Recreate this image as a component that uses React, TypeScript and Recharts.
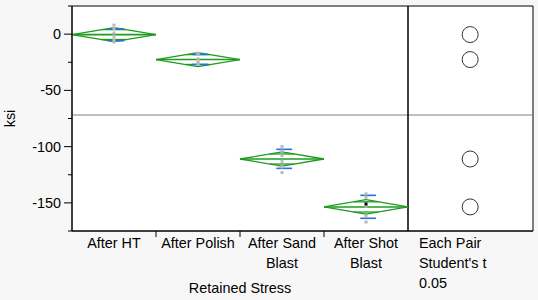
import { ComposedChart, ReferenceArea, ReferenceLine, Scatter, XAxis, YAxis } from "recharts";

const groupLabels = [["After HT"], ["After Polish"], ["After Sand", "Blast"], ["After Shot", "Blast"]];
const compareLabel = ["Each Pair", "Student's t", "0.05"];
const axisTitle = "Retained Stress";

const means = [-0.4, -22.6, -111.0, -153.6];
const ciHalf = [6.2, 6.2, 6.3, 6.4];
const sdLow = [-5.9, -26.9, -119.3, -163.7];
const sdHigh = [4.7, -18.0, -102.4, -143.3];
const grandMean = -71.9;

const obsHT = [8, 5, 1, -2, -5, -7];
const obsPolish = [-17, -18, -22, -25, -26, -27];
const obsSand = [-100, -104, -108, -113, -118, -123];
const obsShot = [-142, -145, -153, -162, -167];
const obsShotSelected = [-151];

const yTicks = [25, 0, -25, -50, -75, -100, -125, -150, -175];
const xTicks = [0.5, 1, 1.5, 2, 2.5, 3, 3.5, 4];

const X_MAX = 4 + 125 / 84;
const CIRCLE_X = 4.74;
const GREEN = "#1f9b1f";
const BLUE = "#2a6ef0";
const FS = 14.4;

const points = [obsHT, obsPolish, obsSand, obsShot].flatMap((arr, i) =>
  arr.map((v) => ({ x: i + 0.5, y: v }))
);
const selected = obsShotSelected.map((v) => ({ x: 3.5, y: v }));
const circles = means.map((m) => ({ x: CIRCLE_X, y: m }));

const font = "'Liberation Sans', Arial, sans-serif";

function YTick(props: any) {
  const { x, y, payload } = props;
  const major = payload.value % 50 === 0;
  return (
    <g>
      <line x1={x - (major ? 8 : 4)} x2={x} y1={y} y2={y} stroke="#000" />
      {major && (
        <text x={x - 11} y={y + 5} textAnchor="end" fontSize={FS} fontFamily={font} fill="#000">
          {payload.value}
        </text>
      )}
    </g>
  );
}

function XTick(props: any) {
  const { x, y, payload } = props;
  const v = payload.value;
  if (v === 4) {
    return (
      <g>
        {compareLabel.map((t, k) => (
          <text key={k} x={x + 11} y={y + 17 + k * 19.8} fontSize={FS} fontFamily={font} fill="#000">
            {t}
          </text>
        ))}
      </g>
    );
  }
  if (Number.isInteger(v)) {
    return (
      <g>
        <line x1={x} x2={x} y1={y} y2={y + 6} stroke="#000" />
        {v === 2 && (
          <text x={x} y={y + 61.5} textAnchor="middle" fontSize={FS} fontFamily={font} fill="#000">
            {axisTitle}
          </text>
        )}
      </g>
    );
  }
  const lines = groupLabels[Math.floor(v)];
  return (
    <g>
      {lines.map((t, k) => (
        <text key={k} x={x} y={y + 17 + k * 20} textAnchor="middle" fontSize={FS} fontFamily={font} fill="#000">
          {t}
        </text>
      ))}
    </g>
  );
}

function YLabel(props: any) {
  const { viewBox } = props;
  const cx = viewBox.x + 10;
  const cy = viewBox.y + viewBox.height / 2;
  return (
    <text x={cx} y={cy} transform={`rotate(-90 ${cx} ${cy})`} textAnchor="middle" dominantBaseline="central" fontSize={FS} fontFamily={font} fill="#000">
      ksi
    </text>
  );
}

function diamondSegments(i: number) {
  const m = means[i];
  const c = ciHalf[i];
  const mid = i + 0.5;
  const ov = c / Math.SQRT2;
  const ovHalf = 0.5 * (1 - 1 / Math.SQRT2);
  return [
    { seg: [{ x: i, y: m }, { x: mid, y: m + c }], color: GREEN, w: 1.3 },
    { seg: [{ x: mid, y: m + c }, { x: i + 1, y: m }], color: GREEN, w: 1.3 },
    { seg: [{ x: i + 1, y: m }, { x: mid, y: m - c }], color: GREEN, w: 1.3 },
    { seg: [{ x: mid, y: m - c }, { x: i, y: m }], color: GREEN, w: 1.3 },
    { seg: [{ x: i, y: m }, { x: i + 1, y: m }], color: GREEN, w: 1.6 },
    { seg: [{ x: mid - ovHalf, y: m + ov }, { x: mid + ovHalf, y: m + ov }], color: GREEN, w: 1.3 },
    { seg: [{ x: mid - ovHalf, y: m - ov }, { x: mid + ovHalf, y: m - ov }], color: GREEN, w: 1.3 },
    { seg: [{ x: mid - 0.068, y: sdHigh[i] }, { x: mid + 0.12, y: sdHigh[i] }], color: BLUE, w: 1.6 },
    { seg: [{ x: mid - 0.068, y: sdLow[i] }, { x: mid + 0.12, y: sdLow[i] }], color: BLUE, w: 1.6 },
  ];
}

const segments = means.flatMap((_, i) => diamondSegments(i));

export default function App() {
  return (
    <div style={{ position: "absolute", left: 0, top: 0, width: 538, height: 300, background: "#f7f7f7" }}>
      <ComposedChart width={538} height={300} margin={{ top: 6, right: 5, left: 0, bottom: 0 }}>
        <XAxis
          type="number"
          dataKey="x"
          domain={[0, X_MAX]}
          ticks={xTicks}
          interval={0}
          tick={<XTick />}
          tickLine={false}
          tickSize={0}
          tickMargin={0}
          height={69}
          axisLine={{ stroke: "#000" }}
          allowDataOverflow
        />
        <YAxis
          type="number"
          dataKey="y"
          domain={[-175, 25]}
          ticks={yTicks}
          interval={0}
          tick={<YTick />}
          tickLine={false}
          tickSize={0}
          tickMargin={0}
          width={72}
          axisLine={{ stroke: "#000" }}
          label={<YLabel />}
          allowDataOverflow
        />
        <ReferenceArea x1={0} x2={X_MAX} y1={-175} y2={25} fill="#fff" fillOpacity={1} stroke="#000" strokeWidth={1} />
        <ReferenceLine y={grandMean} stroke="#808080" strokeWidth={1} />
        <ReferenceLine x={4} stroke="#000" strokeWidth={1.5} />
        {segments.map((s, k) => (
          <ReferenceLine key={k} segment={s.seg} stroke={s.color} strokeWidth={s.w} ifOverflow="visible" />
        ))}
        <Scatter
          data={points}
          isAnimationActive={false}
          shape={(p: any) => <rect x={p.cx - 1.5} y={p.cy - 1.5} width={3} height={3} fill="#b8b8b8" />}
        />
        <Scatter
          data={selected}
          isAnimationActive={false}
          shape={(p: any) => <rect x={p.cx - 1.5} y={p.cy - 1.5} width={3} height={3} fill="#000" />}
        />
        <Scatter
          data={circles}
          isAnimationActive={false}
          shape={(p: any) => <circle cx={p.cx} cy={p.cy} r={8} fill="none" stroke="#333" strokeWidth={1} />}
        />
      </ComposedChart>
    </div>
  );
}
